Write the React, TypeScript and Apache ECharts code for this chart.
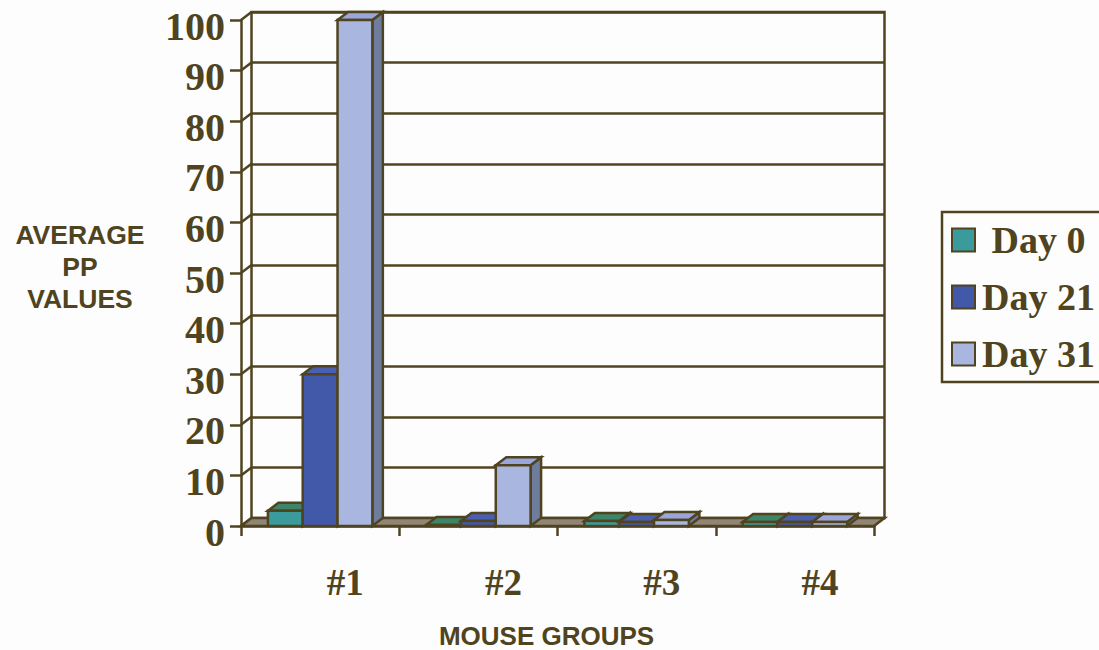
import React, { useEffect, useRef } from "react";
import * as echarts from "echarts";

const groups = ["#1", "#2", "#3", "#4"];
const day0 = [3, 0.2, 1, 0.8];
const day21 = [30, 1, 0.8, 0.8];
const day31 = [100, 12, 1.2, 0.8];
const valueTicks = [0, 10, 20, 30, 40, 50, 60, 70, 80, 90, 100];

const INK = "#4f4320";
const FLOOR = "#8f8677";
const PAPER = "#fdfdfd";
const DEPTH_X = 10.5;
const DEPTH_Y = -8;
const LINE = 2.5;
const SERIF = "'Liberation Serif', serif";
const SANS = "'Liberation Sans', sans-serif";

const palette = [
  { front: "#3a9a9c", top: "#3c8569", side: "#2f6a6c" },
  { front: "#4259a9", top: "#4a5fb2", side: "#38427c" },
  { front: "#a9b7e0", top: "#9aa6dc", side: "#6e7c9e" },
];

// Extruded box for one bar: front face, lid and right-hand side.
const barRenderer = (slot: number) => (_params: any, api: any) => {
  const band = api.size([1, 0])[0];
  const width = band * 0.22;
  const centre = api.coord([api.value(0), 0]);
  const head = api.coord([api.value(0), api.value(1)]);
  const x0 = centre[0] + (slot - 1.5) * width;
  const x1 = x0 + width;
  const yBase = centre[1];
  const yTop = head[1];
  const colours = palette[slot];
  const face = (points: number[][], fill: string) => ({
    type: "polygon",
    shape: { points },
    style: { fill, stroke: INK, lineWidth: LINE },
  });
  return {
    type: "group",
    children: [
      face(
        [
          [x1, yBase],
          [x1 + DEPTH_X, yBase + DEPTH_Y],
          [x1 + DEPTH_X, yTop + DEPTH_Y],
          [x1, yTop],
        ],
        colours.side
      ),
      face(
        [
          [x0, yTop],
          [x1, yTop],
          [x1 + DEPTH_X, yTop + DEPTH_Y],
          [x0 + DEPTH_X, yTop + DEPTH_Y],
        ],
        colours.top
      ),
      face(
        [
          [x0, yBase],
          [x1, yBase],
          [x1, yTop],
          [x0, yTop],
        ],
        colours.front
      ),
    ],
  };
};

const barSeries = (name: string, values: number[], slot: number) => ({
  type: "custom",
  name,
  xAxisIndex: 0,
  yAxisIndex: 0,
  z: 5 + slot,
  silent: true,
  itemStyle: { color: palette[slot].front },
  data: values.map((v, i) => [i, v]),
  encode: { x: 0, y: 1 },
  renderItem: barRenderer(slot),
});

export default function App() {
  const host = useRef<HTMLDivElement>(null);

  useEffect(() => {
    const chart = echarts.init(host.current!, undefined, { renderer: "svg" });
    chart.setOption({
      animation: false,
      backgroundColor: PAPER,
      grid: [
        { left: 241, right: 225, top: 20, bottom: 124, outerBoundsMode: "none" },
        {
          left: 251.5,
          right: 214.5,
          top: 12,
          bottom: 132,
          outerBoundsMode: "none",
          show: true,
          backgroundColor: PAPER,
          borderColor: INK,
          borderWidth: LINE,
        },
      ],
      xAxis: [
        {
          type: "category",
          gridIndex: 0,
          data: groups,
          name: "MOUSE GROUPS",
          nameLocation: "middle",
          nameGap: 97,
          nameTextStyle: {
            fontFamily: SANS,
            fontWeight: "bold",
            fontSize: 26,
            color: INK,
            padding: [0, 22, 0, 0],
          },
          axisLine: { show: true, lineStyle: { color: INK, width: LINE } },
          axisTick: { show: true, length: 10, lineStyle: { color: INK, width: LINE } },
          axisLabel: {
            fontFamily: SERIF,
            fontWeight: "bold",
            fontSize: 37,
            color: INK,
            margin: 38,
            padding: [0, 0, 0, 50],
          },
        },
        {
          type: "category",
          gridIndex: 1,
          data: groups,
          axisLine: { show: false },
          axisTick: { show: false },
          axisLabel: { show: false },
          splitLine: { show: false },
        },
      ],
      yAxis: [
        {
          type: "value",
          gridIndex: 0,
          min: 0,
          max: 100,
          interval: 10,
          axisLine: { show: true, lineStyle: { color: INK, width: LINE } },
          axisTick: { show: true, length: 11, lineStyle: { color: INK, width: LINE } },
          axisLabel: {
            fontFamily: SERIF,
            fontWeight: "bold",
            fontSize: 40,
            color: INK,
            margin: 16,
            verticalAlign: "top",
            lineHeight: 12,
          },
          splitLine: { show: false },
        },
        {
          type: "value",
          gridIndex: 1,
          min: 0,
          max: 100,
          interval: 10,
          axisLine: { show: false },
          axisTick: { show: false },
          axisLabel: { show: false },
          splitLine: { show: true, lineStyle: { color: INK, width: LINE } },
        },
      ],
      legend: {
        data: ["Day 0", "Day 21", "Day 31"],
        orient: "vertical",
        left: 951,
        top: 221,
        padding: 0,
        itemWidth: 23,
        itemHeight: 23,
        itemGap: 19,
        selectedMode: false,
        icon: "rect",
        itemStyle: { borderColor: INK, borderWidth: 2 },
        formatter: (name: string) => (name === "Day 0" ? "\u00a0" + name : name),
        textStyle: {
          fontFamily: SERIF,
          fontWeight: "bold",
          fontSize: 38,
          color: INK,
          padding: [0, 0, 0, 2],
        },
      },
      graphic: [
        {
          type: "rect",
          z: 0,
          silent: true,
          shape: { x: 942, y: 212, width: 175, height: 170 },
          style: { fill: PAPER, stroke: INK, lineWidth: LINE },
        },
        // Value-axis title, set to the left of the tick labels.
        {
          type: "text",
          silent: true,
          x: 80,
          y: 267,
          style: {
            text: "AVERAGE\nPP\nVALUES",
            align: "center",
            verticalAlign: "middle",
            fontFamily: SANS,
            fontWeight: "bold",
            fontSize: 26.5,
            lineHeight: 32,
            fill: INK,
          },
        },
      ],
      series: [
        // Slanted side wall: one short edge per value tick.
        {
          type: "custom",
          name: "wall",
          xAxisIndex: 0,
          yAxisIndex: 0,
          z: 3,
          silent: true,
          data: valueTicks.map((v) => [0, v]),
          encode: { x: 0, y: 1 },
          renderItem: (_p: any, api: any) => {
            const left = api.coord([0, api.value(1)]);
            const x = left[0] - api.size([1, 0])[0] / 2;
            return {
              type: "line",
              shape: { x1: x, y1: left[1], x2: x + DEPTH_X, y2: left[1] + DEPTH_Y },
              style: { stroke: INK, lineWidth: LINE },
            };
          },
        },
        // Floor of the plot box, spanning every category.
        {
          type: "custom",
          name: "floor",
          xAxisIndex: 0,
          yAxisIndex: 0,
          z: 4,
          silent: true,
          data: [[0, 0]],
          encode: { x: 0, y: 1 },
          renderItem: (_p: any, api: any) => {
            const band = api.size([1, 0])[0];
            const a = api.coord([0, 0]);
            const x0 = a[0] - band / 2;
            const x1 = x0 + band * groups.length;
            return {
              type: "polygon",
              shape: {
                points: [
                  [x0, a[1]],
                  [x1, a[1]],
                  [x1 + DEPTH_X, a[1] + DEPTH_Y],
                  [x0 + DEPTH_X, a[1] + DEPTH_Y],
                ],
              },
              style: { fill: FLOOR, stroke: INK, lineWidth: LINE },
            };
          },
        },
        barSeries("Day 0", day0, 0),
        barSeries("Day 21", day21, 1),
        barSeries("Day 31", day31, 2),
      ],
    });
    return () => chart.dispose();
  }, []);

  return (
    <div
      ref={host}
      style={{ position: "fixed", left: 0, top: 0, width: 1099, height: 650 }}
    />
  );
}
